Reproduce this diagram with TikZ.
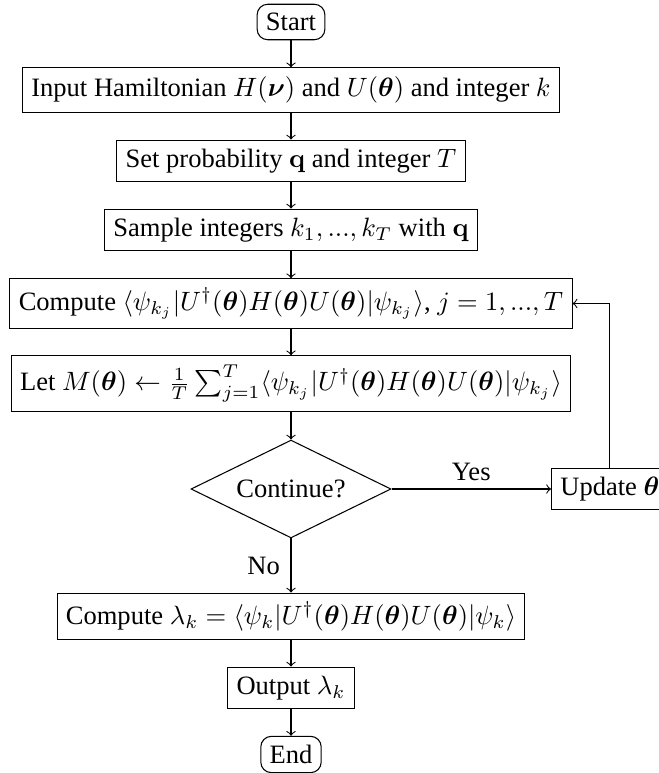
\documentclass[tikz,border=0pt]{standalone}
\usepackage{amsmath,bm}
\usepackage[no-math]{fontspec}
\setmainfont{Liberation Serif}
\usetikzlibrary{shapes.geometric}
\begin{document}
\begin{tikzpicture}[x=0.377pt,y=-0.377pt,
  line width=0.4pt,
  box/.style={draw, rectangle, inner sep=3.33pt},
  term/.style={draw, rectangle, rounded corners=4pt, inner sep=3.33pt},
  dec/.style={draw, diamond, aspect=2, inner sep=0pt, minimum width=75.4pt, minimum height=36.9pt},
  arr/.style={->},
  lbl/.style={inner sep=0pt}]
\useasboundingbox (0,0) rectangle (659,773);
\node[term] (start) at (291,22) {Start};
\node[box] (input) at (291,90) {Input Hamiltonian $H(\bm{\nu})$ and $U(\bm{\theta})$ and integer $k$};
\node[box] (setp) at (291,161) {Set probability $\mathbf{q}$ and integer $T$};
\node[box] (sample) at (291,230) {Sample integers $k_1,...,k_T$ with $\mathbf{q}$};
\node[box] (compute) at (291,303.5) {Compute $\langle\psi_{k_j}|U^\dagger(\bm{\theta})H(\bm{\theta})U(\bm{\theta})|\psi_{k_j}\rangle$, $j=1,...,T$};
\node[box] (let) at (291,383.5) {Let $M(\bm{\theta})\leftarrow\frac{1}{T}\sum_{j=1}^{T}\langle\psi_{k_j}|U^\dagger(\bm{\theta})H(\bm{\theta})U(\bm{\theta})|\psi_{k_j}\rangle$};
\node[dec] (cont) at (291,489) {Continue?};
\node[box, anchor=west] (update) at (551,489) {Update $\bm{\theta}$};
\node[box] (lambda) at (291,616.5) {Compute $\lambda_k=\langle\psi_k|U^\dagger(\bm{\theta})H(\bm{\theta})U(\bm{\theta})|\psi_k\rangle$};
\node[box] (output) at (291,688) {Output $\lambda_k$};
\node[term] (end) at (291,754.5) {End};
\draw[arr] (start) -- (input);
\draw[arr] (input) -- (setp);
\draw[arr] (setp) -- (sample);
\draw[arr] (sample) -- (compute);
\draw[arr] (compute) -- (let);
\draw[arr] (let) -- (cont);
\draw[arr] (cont) -- node[lbl, above=3pt] (yes) {Yes} (update);
\draw[arr] (cont) -- node[lbl, left=4pt] (no) {No} (lambda);
\draw[arr] (update.north) |- (compute.east);
\draw[arr] (lambda) -- (output);
\draw[arr] (output) -- (end);
\end{tikzpicture}
\end{document}
